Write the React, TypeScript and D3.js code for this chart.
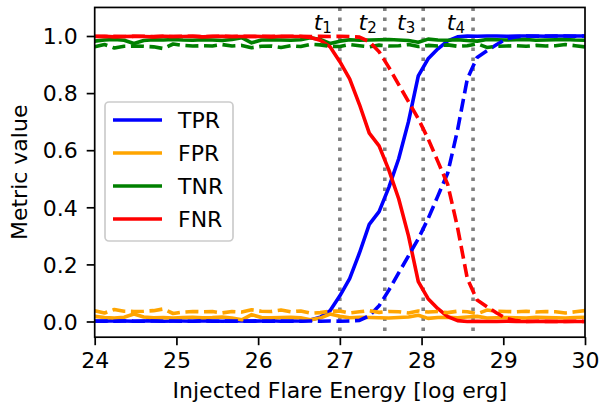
import React, { useRef, useEffect } from "react";
import * as d3 from "d3";

// log injected flare energy grid
const energy = [
  24.0, 24.12, 24.24, 24.36, 24.48, 24.6, 24.72, 24.84, 24.96, 25.08,
  25.2, 25.32, 25.44, 25.56, 25.68, 25.8, 25.92, 26.04, 26.16, 26.28,
  26.4, 26.52, 26.64, 26.76, 26.88, 27.0, 27.12, 27.24, 27.36, 27.48,
  27.6, 27.72, 27.84, 27.96, 28.08, 28.2, 28.32, 28.44, 28.56, 28.68,
  28.8, 28.92, 29.04, 29.16, 29.28, 29.4, 29.52, 29.64, 29.76, 29.88,
  30.0,
];

// solid set
const tprSolid = [
  0.002, 0.001, 0.003, 0.002, 0.001, 0.002, 0.003, 0.001, 0.002, 0.002,
  0.001, 0.003, 0.002, 0.001, 0.002, 0.002, 0.001, 0.002, 0.003, 0.001,
  0.002, 0.002, 0.005, 0.015, 0.038, 0.09, 0.15, 0.24, 0.34, 0.385,
  0.47, 0.57, 0.7, 0.86, 0.92, 0.955, 0.983, 0.997, 1.0, 0.999,
  1.0, 1.0, 0.999, 1.0, 1.0, 1.0, 0.999, 1.0, 1.0, 1.0,
  1.0,
];
const fprSolid = [
  0.018, 0.014, 0.012, 0.015, 0.026, 0.016, 0.013, 0.014, 0.012, 0.014,
  0.015, 0.013, 0.014, 0.016, 0.012, 0.006, 0.024, 0.014, 0.013, 0.014,
  0.015, 0.013, 0.006, 0.012, 0.026, 0.018, 0.013, 0.015, 0.014, 0.013,
  0.012, 0.014, 0.016, 0.022, 0.011, 0.014, 0.015, 0.013, 0.016, 0.018,
  0.012, 0.013, 0.014, 0.013, 0.012, 0.015, 0.014, 0.013, 0.012, 0.014,
  0.015,
];
const tnrSolid = [
  0.982, 0.986, 0.988, 0.985, 0.974, 0.984, 0.987, 0.986, 0.988, 0.986,
  0.985, 0.987, 0.986, 0.984, 0.988, 0.994, 0.976, 0.986, 0.987, 0.986,
  0.985, 0.987, 0.994, 0.988, 0.974, 0.982, 0.987, 0.985, 0.986, 0.987,
  0.988, 0.986, 0.984, 0.978, 0.989, 0.986, 0.985, 0.987, 0.984, 0.982,
  0.988, 0.987, 0.986, 0.987, 0.988, 0.985, 0.986, 0.987, 0.988, 0.986,
  0.985,
];
const fnrSolid = [
  0.998, 0.999, 0.997, 0.998, 0.999, 0.998, 0.997, 0.999, 0.998, 0.998,
  0.999, 0.997, 0.998, 0.999, 0.998, 0.998, 0.999, 0.998, 0.997, 0.999,
  0.998, 0.998, 0.995, 0.985, 0.962, 0.91, 0.85, 0.76, 0.66, 0.615,
  0.53, 0.43, 0.3, 0.14, 0.08, 0.045, 0.017, 0.003, 0.0, 0.001,
  0.0, 0.0, 0.001, 0.0, 0.0, 0.0, 0.001, 0.0, 0.0, 0.0,
  0.0,
];

// dashed set
const tprDashed = [
  0.001, 0.002, 0.001, 0.002, 0.001, 0.001, 0.002, 0.001, 0.002, 0.001,
  0.001, 0.002, 0.001, 0.001, 0.002, 0.001, 0.002, 0.001, 0.001, 0.002,
  0.001, 0.001, 0.002, 0.001, 0.002, 0.001, 0.002, 0.004, 0.02, 0.055,
  0.11, 0.17, 0.23, 0.29, 0.36, 0.44, 0.52, 0.67, 0.85, 0.925,
  0.948, 0.97, 0.99, 0.997, 1.0, 0.999, 1.0, 1.0, 1.0, 0.999,
  1.0,
];
const fprDashed = [
  0.038, 0.03, 0.042, 0.036, 0.035, 0.036, 0.038, 0.044, 0.028, 0.033,
  0.035, 0.034, 0.035, 0.03, 0.035, 0.033, 0.041, 0.036, 0.035, 0.04,
  0.034, 0.037, 0.029, 0.031, 0.036, 0.037, 0.03, 0.034, 0.038, 0.032,
  0.035, 0.034, 0.03, 0.037, 0.033, 0.035, 0.031, 0.036, 0.034, 0.027,
  0.04, 0.036, 0.035, 0.034, 0.036, 0.033, 0.035, 0.034, 0.03, 0.034,
  0.038,
];
const tnrDashed = [
  0.962, 0.97, 0.958, 0.964, 0.965, 0.964, 0.962, 0.956, 0.972, 0.967,
  0.965, 0.966, 0.965, 0.97, 0.965, 0.967, 0.959, 0.964, 0.965, 0.96,
  0.966, 0.963, 0.971, 0.969, 0.964, 0.963, 0.97, 0.966, 0.962, 0.968,
  0.965, 0.966, 0.97, 0.963, 0.967, 0.965, 0.969, 0.964, 0.966, 0.973,
  0.96, 0.964, 0.965, 0.966, 0.964, 0.967, 0.965, 0.966, 0.97, 0.966,
  0.962,
];
const fnrDashed = [
  0.999, 0.998, 0.999, 0.998, 0.999, 0.999, 0.998, 0.999, 0.998, 0.999,
  0.999, 0.998, 0.999, 0.999, 0.998, 0.999, 0.998, 0.999, 0.999, 0.998,
  0.999, 0.999, 0.998, 0.999, 0.998, 0.999, 0.998, 0.996, 0.98, 0.945,
  0.89, 0.83, 0.77, 0.71, 0.64, 0.56, 0.48, 0.33, 0.15, 0.075,
  0.052, 0.03, 0.01, 0.003, 0.0, 0.001, 0.0, 0.0, 0.0, 0.001,
  0.0,
];

const metricNames = ["TPR", "FPR", "TNR", "FNR"];
const metricColors = ["blue", "orange", "green", "red"];
const thresholds = [27.0, 27.55, 28.02, 28.63];
const thresholdLabels = ["1", "2", "3", "4"];
const xTicks = [24, 25, 26, 27, 28, 29, 30];
const yTicks = [0, 0.2, 0.4, 0.6, 0.8, 1.0];

const FONT = "DejaVu Sans, sans-serif";
const LW = 3.6;

const App = () => {
  const ref = useRef(null);

  useEffect(() => {
    const svg = d3.select(ref.current);
    svg.selectAll("*").remove();

    const x = d3.scaleLinear().domain([24, 30]).range([94.7, 585]);
    const y = d3.scaleLinear().domain([-0.055, 1.1]).range([337.2, 7.45]);
    const [x0, x1] = x.range();
    const [yb, yt] = y.range();

    const plot = svg.append("g");

    // clip to axes box
    svg
      .append("defs")
      .append("clipPath")
      .attr("id", "clip")
      .append("rect")
      .attr("x", x0)
      .attr("y", yt)
      .attr("width", x1 - x0)
      .attr("height", yb - yt);

    const lines = plot.append("g").attr("clip-path", "url(#clip)");

    // threshold markers
    thresholds.forEach((t) => {
      lines
        .append("line")
        .attr("x1", x(t))
        .attr("x2", x(t))
        .attr("y1", yt)
        .attr("y2", yb)
        .attr("stroke", "gray")
        .attr("stroke-width", 3.6)
        .attr("stroke-dasharray", "3.6,6.4");
    });

    const line = d3
      .line()
      .x((d) => x(d[0]))
      .y((d) => y(d[1]));

    const solid = [tprSolid, fprSolid, tnrSolid, fnrSolid];
    const dashed = [tprDashed, fprDashed, tnrDashed, fnrDashed];

    solid.forEach((vals, i) => {
      lines
        .append("path")
        .attr("d", line(energy.map((e, j) => [e, vals[j]])))
        .attr("fill", "none")
        .attr("stroke", metricColors[i])
        .attr("stroke-width", LW)
        .attr("stroke-linejoin", "round");
    });
    dashed.forEach((vals, i) => {
      lines
        .append("path")
        .attr("d", line(energy.map((e, j) => [e, vals[j]])))
        .attr("fill", "none")
        .attr("stroke", metricColors[i])
        .attr("stroke-width", LW)
        .attr("stroke-dasharray", "13,5.6")
        .attr("stroke-linejoin", "round");
    });

    // threshold labels t_i
    thresholds.forEach((t, i) => {
      const lbl = plot
        .append("text")
        .attr("x", x(t) - 8)
        .attr("y", 30)
        .attr("text-anchor", "end")
        .style("font-family", FONT)
        .style("font-size", "22px");
      lbl.append("tspan").style("font-style", "italic").text("t");
      lbl
        .append("tspan")
        .attr("dy", 2.5)
        .style("font-size", "15px")
        .text(thresholdLabels[i]);
    });

    // axes box
    plot
      .append("rect")
      .attr("x", x0)
      .attr("y", yt)
      .attr("width", x1 - x0)
      .attr("height", yb - yt)
      .attr("fill", "none")
      .attr("stroke", "black")
      .attr("stroke-width", 1.7);

    const xAxis = plot
      .append("g")
      .attr("transform", `translate(0,${yb})`)
      .call(d3.axisBottom(x).tickValues(xTicks).tickFormat(d3.format("d")).tickSize(8).tickPadding(7));
    const yAxis = plot
      .append("g")
      .attr("transform", `translate(${x0},0)`)
      .call(d3.axisLeft(y).tickValues(yTicks).tickFormat(d3.format(".1f")).tickSize(8).tickPadding(9));
    [xAxis, yAxis].forEach((ax) => {
      ax.select(".domain").remove();
      ax.selectAll("line").attr("stroke", "black").attr("stroke-width", 1.7);
      ax.selectAll("text")
        .attr("fill", "black")
        .style("font-family", FONT)
        .style("font-size", "22px");
    });
    yAxis.selectAll("text").attr("dy", "0.35em");

    // axis labels
    svg
      .append("text")
      .attr("x", (x0 + x1) / 2)
      .attr("y", 398)
      .attr("text-anchor", "middle")
      .style("font-family", FONT)
      .style("font-size", "22px")
      .text("Injected Flare Energy [log erg]");
    svg
      .append("text")
      .attr("transform", `translate(26.7,${(yt + yb) / 2}) rotate(-90)`)
      .attr("text-anchor", "middle")
      .style("font-family", FONT)
      .style("font-size", "22px")
      .text("Metric value");

    // legend
    const legend = svg.append("g");
    legend
      .append("rect")
      .attr("x", 105)
      .attr("y", 102)
      .attr("width", 128)
      .attr("height", 139)
      .attr("rx", 4)
      .attr("fill", "white")
      .attr("fill-opacity", 0.8)
      .attr("stroke", "#cccccc")
      .attr("stroke-width", 1.7);
    metricNames.forEach((name, i) => {
      const cy = 120 + i * 33;
      legend
        .append("line")
        .attr("x1", 113)
        .attr("x2", 162)
        .attr("y1", cy)
        .attr("y2", cy)
        .attr("stroke", metricColors[i])
        .attr("stroke-width", LW);
      legend
        .append("text")
        .attr("x", 178)
        .attr("y", cy + 8)
        .style("font-family", FONT)
        .style("font-size", "22px")
        .text(name);
    });
  }, []);

  return (
    <>
      <style>{"body{margin:0}"}</style>
      <svg ref={ref} width={601} height={409} style={{ display: "block" }} />
    </>
  );
};

export default App;
